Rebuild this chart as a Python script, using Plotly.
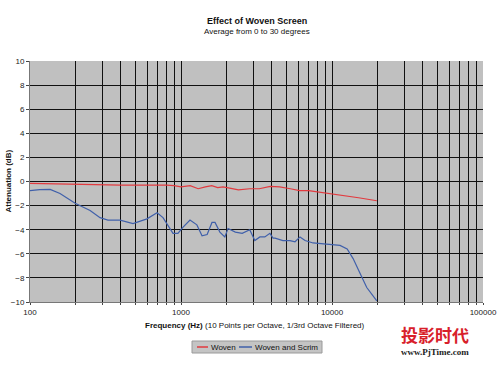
import plotly.graph_objects as go

title = "Effect of Woven Screen"
subtitle = "Average from 0 to 30 degrees"
series_names = ["Woven", "Woven and Scrim"]
series_colors = ["#E23A3F", "#4060AA"]

scrim_freq = [100, 116, 136, 158, 199, 250, 291, 328, 395, 481, 595, 694, 760, 885, 954,
              1029, 1147, 1274, 1378, 1490, 1604, 1680, 1809, 1951, 2049, 2290, 2544, 2853,
              3083, 3330, 3490, 3590, 3880, 4070, 4200, 4520, 4730, 5270, 5690, 6140, 6630,
              7490, 9700, 11300, 12600, 13800, 15300, 16990, 19800]
scrim_db = [-0.75, -0.67, -0.65, -1.0, -1.8, -2.4, -3.0, -3.2, -3.2, -3.5, -3.1, -2.6, -3.0,
            -4.3, -4.3, -3.8, -3.2, -3.6, -4.5, -4.4, -3.4, -3.4, -4.2, -4.6, -3.9, -4.2,
            -4.3, -4.0, -4.9, -4.6, -4.6, -4.6, -4.3, -4.7, -4.7, -4.8, -4.9, -4.9, -5.0,
            -4.6, -4.9, -5.1, -5.2, -5.3, -5.6, -6.4, -7.6, -8.8, -9.9]

woven_freq = [100, 150, 200, 300, 400, 500, 600, 700, 800, 900, 1000, 1150, 1300, 1450, 1600,
              1750, 1900, 2100, 2400, 2850, 3300, 3900, 4500, 5300, 6100, 7000, 8000, 9700,
              12000, 15000, 19800]
woven_db = [-0.15, -0.2, -0.25, -0.3, -0.3, -0.3, -0.3, -0.25, -0.3, -0.35, -0.45, -0.35,
            -0.6, -0.45, -0.35, -0.5, -0.45, -0.55, -0.7, -0.6, -0.6, -0.4, -0.45, -0.6,
            -0.75, -0.75, -0.85, -1.0, -1.15, -1.35, -1.6]

x_tickvals = [m * 10 ** e for e in (2, 3, 4) for m in range(1, 10)] + [100000]
x_ticktext = [str(v) if str(v).strip("0") == "1" else "" for v in x_tickvals]
y_tickvals = list(range(-10, 11, 2))

W, H = 500, 375
L, R, T, B = 30, 17, 61, 73
PW, PH = W - L - R, H - T - B


def px(x):
    return (x - L) / PW


def py(y):
    return (H - B - y) / PH


font_family = "Liberation Sans, Arial, sans-serif"

fig = go.Figure()
fig.add_trace(go.Scatter(x=woven_freq, y=woven_db, mode="lines", name=series_names[0],
                         line=dict(color=series_colors[0], width=1.2)))
fig.add_trace(go.Scatter(x=scrim_freq, y=scrim_db, mode="lines", name=series_names[1],
                         line=dict(color=series_colors[1], width=1.2)))

fig.update_layout(
    width=W, height=H,
    margin=dict(l=L, r=R, t=T, b=B, autoexpand=False),
    paper_bgcolor="white",
    plot_bgcolor="#C0C0C0",
    font=dict(family=font_family, size=8, color="#222"),
    showlegend=False,
)

# titles
fig.add_annotation(text="<b>" + title + "</b>", xref="paper", yref="paper", x=0.5,
                   y=py(21), yanchor="middle", showarrow=False, font=dict(size=9, color="#111"))
fig.add_annotation(text=subtitle, xref="paper", yref="paper", x=0.5, y=py(32),
                   yanchor="middle", showarrow=False, font=dict(size=8, color="#111"))
fig.add_annotation(text="<b>Attenuation (dB)</b>", xref="paper", yref="paper",
                   x=px(8), y=0.5, xanchor="center", yanchor="middle", textangle=-90,
                   showarrow=False, font=dict(size=8, color="#111"))
fig.add_annotation(text="<b>Frequency (Hz)</b> (10 Points per Octave, 1/3rd Octave Filtered)",
                   xref="paper", yref="paper", x=px(255), y=py(325), yanchor="middle",
                   showarrow=False, font=dict(size=8, color="#111"))

# legend box (drawn)
fig.add_shape(type="rect", xref="paper", yref="paper", x0=px(192), x1=px(322),
              y0=py(341), y1=py(353), fillcolor="#C4C4C4", line=dict(color="#9A9A9A", width=1))
leg_items = [(197, 208, 209), (239, 252, 253)]
for (lx0, lx1, tx), name, col in zip(leg_items, series_names, series_colors):
    fig.add_shape(type="line", xref="paper", yref="paper", x0=px(lx0), x1=px(lx1),
                  y0=py(347), y1=py(347), line=dict(color=col, width=1.5))
    fig.add_annotation(text=name, xref="paper", yref="paper", x=px(tx), y=py(347),
                       xanchor="left", yanchor="middle", showarrow=False,
                       font=dict(size=8, color="#111"))

# watermark
fig.add_annotation(text="<b>投影时代</b>", xref="paper", yref="paper", x=px(435), y=py(334),
                   xanchor="center", yanchor="middle", showarrow=False,
                   font=dict(size=17, color="#D8202A", family="Noto Sans CJK SC"))
fig.add_annotation(text="<b>www.PjTime.com</b>", xref="paper", yref="paper", x=px(435),
                   y=py(352), xanchor="center", yanchor="middle", showarrow=False,
                   font=dict(size=9, color="#222", family="Liberation Serif, serif"))

fig.update_xaxes(type="log", range=[2, 5], tickvals=x_tickvals, ticktext=x_ticktext,
                 showgrid=True, gridcolor="#111", gridwidth=1, ticks="outside",
                 ticklen=2, tickcolor="#444", showline=True, linecolor="#777",
                 zeroline=False, tickfont=dict(size=8), automargin=False)
fig.update_yaxes(range=[-10, 10], tickvals=y_tickvals, showgrid=True, gridcolor="#111",
                 gridwidth=1, ticks="outside", ticklen=3, tickcolor="#444",
                 showline=True, linecolor="#777", zeroline=False, tickfont=dict(size=8),
                 automargin=False)

fig.write_html("out.html", config={"displayModeBar": False},
               post_script="document.body.style.margin='0px';")
